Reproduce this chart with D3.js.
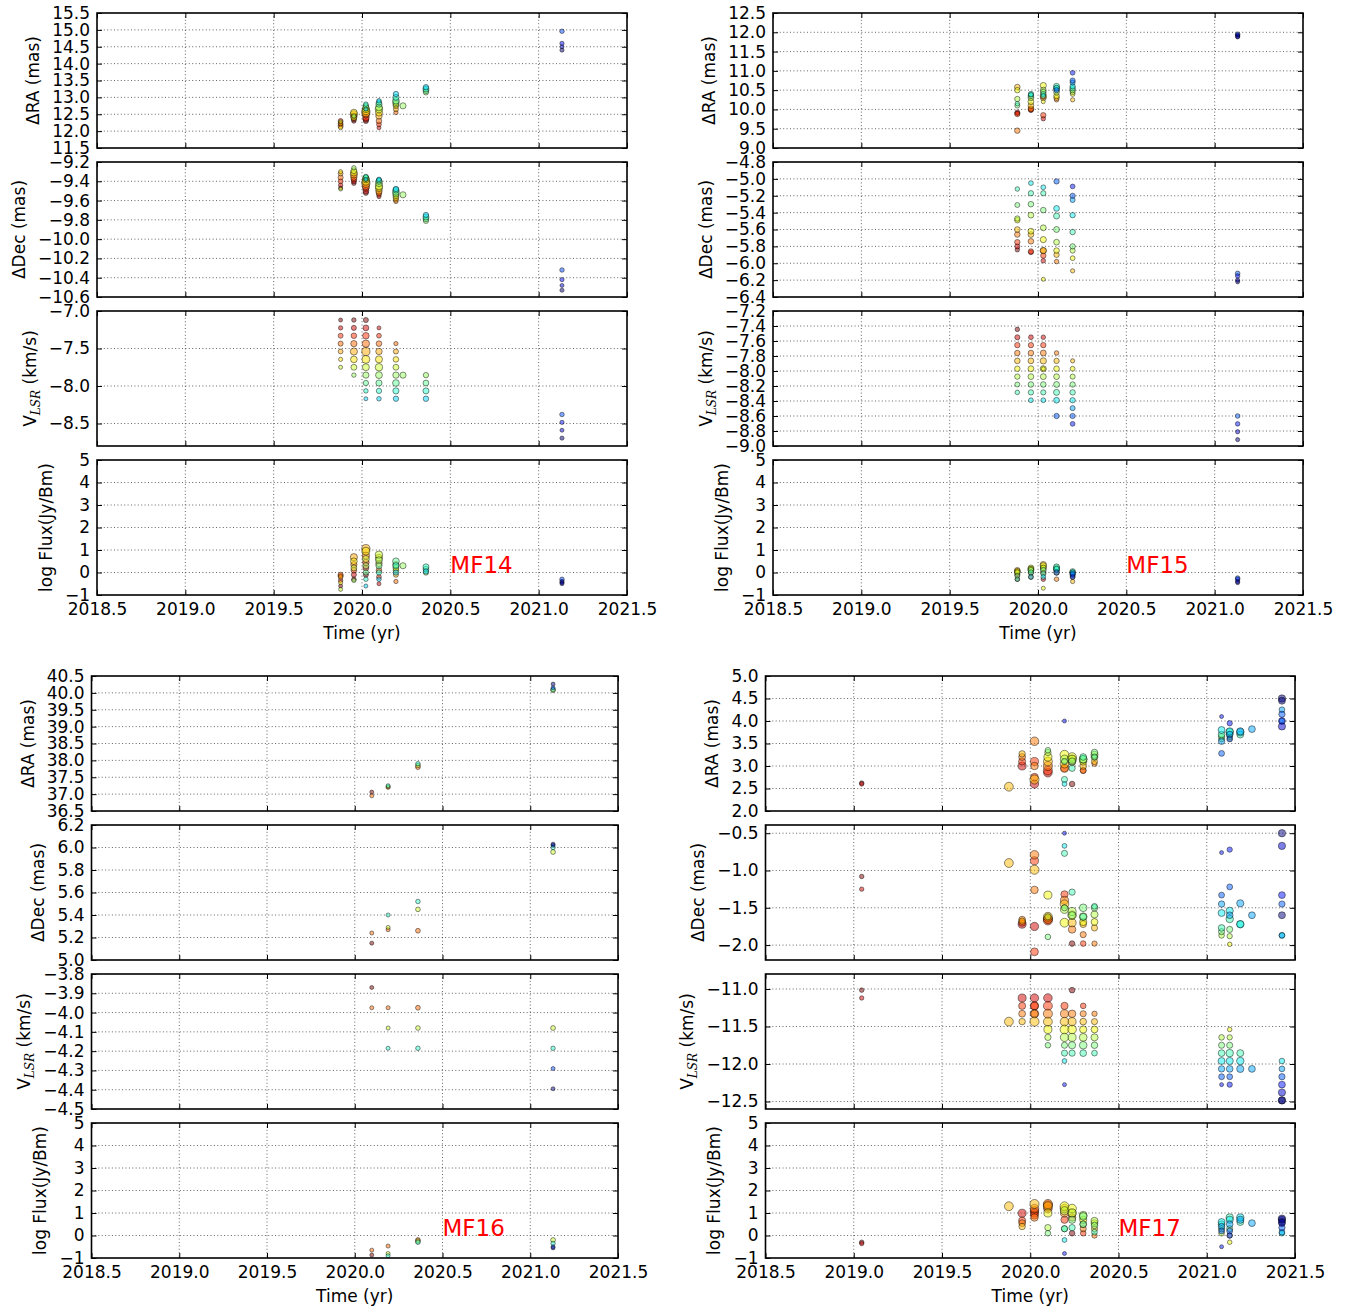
<!DOCTYPE html>
<html>
<head>
<meta charset="utf-8">
<script src="https://cdn.jsdelivr.net/npm/d3@7"></script>
<style>
  body { margin: 0; background: #fff; }
  text { font-family: "DejaVu Sans", sans-serif; }
</style>
</head>
<body>
<svg id="fig" width="1359" height="1312"></svg>
<script>
// ---------------------------------------------------------------
// Maser spot data, grouped by observing epoch (one inner list per epoch)
// ---------------------------------------------------------------

// MF14
const mf14Epochs = [2019.879, 2019.954, 2020.022, 2020.096, 2020.192, 2020.232, 2020.362, 2021.132];
const mf14Vlsr = [
  [-7.12, -7.225, -7.33, -7.435, -7.54, -7.645, -7.75],
  [-7.12, -7.225, -7.33, -7.435, -7.54, -7.645, -7.75, -7.855],
  [-7.12, -7.225, -7.33, -7.435, -7.54, -7.645, -7.75, -7.855, -7.96, -8.065, -8.17],
  [-7.225, -7.33, -7.435, -7.54, -7.645, -7.75, -7.855, -7.96, -8.065, -8.17],
  [-7.435, -7.54, -7.645, -7.75, -7.855, -7.96, -8.065, -8.17],
  [-7.855],
  [-7.855, -7.96, -8.065, -8.17],
  [-8.38, -8.485, -8.59, -8.695]
];
const mf14RA = [
  [12.25, 12.2, 12.3, 12.15, 12.22, 12.1, 12.28],
  [12.3, 12.35, 12.4, 12.45, 12.5, 12.55, 12.4, 12.45],
  [12.3, 12.35, 12.4, 12.5, 12.55, 12.6, 12.65, 12.7, 12.75, 12.8, 12.65],
  [12.1, 12.2, 12.3, 12.45, 12.55, 12.65, 12.7, 12.8, 12.85, 12.9],
  [12.55, 12.65, 12.75, 12.8, 12.85, 12.9, 13.0, 13.1],
  [12.75],
  [13.15, 13.2, 13.25, 13.3],
  [14.96, 14.6, 14.5, 14.4]
];
const mf14Dec = [
  [-9.47, -9.44, -9.40, -9.36, -9.32, -9.30, -9.48],
  [-9.42, -9.40, -9.38, -9.36, -9.33, -9.31, -9.29, -9.26],
  [-9.52, -9.50, -9.47, -9.45, -9.42, -9.40, -9.38, -9.37, -9.36, -9.35, -9.38],
  [-9.56, -9.54, -9.52, -9.50, -9.47, -9.45, -9.42, -9.40, -9.39, -9.38],
  [-9.61, -9.59, -9.57, -9.55, -9.53, -9.51, -9.49, -9.48],
  [-9.54],
  [-9.81, -9.79, -9.77, -9.75],
  [-10.32, -10.42, -10.48, -10.53]
];
const mf14Flux = [
  [-0.6, -0.35, -0.15, -0.1, -0.2, -0.45, -0.75],
  [-0.3, -0.1, 0.1, 0.35, 0.68, 0.5, 0.2, -0.35],
  [-0.1, 0.2, 0.45, 0.75, 1.06, 0.95, 0.6, 0.3, 0.0, -0.3, -0.6],
  [-0.5, -0.2, 0.1, 0.4, 0.65, 0.79, 0.55, 0.3, 0.0, -0.3],
  [-0.4, -0.1, 0.1, 0.2, 0.35, 0.5, 0.3, 0.0],
  [0.3],
  [0.0, 0.15, 0.25, 0.05],
  [-0.3, -0.4, -0.5, -0.45]
];

// MF15
const mf15Epochs = [2019.883, 2019.960, 2020.030, 2020.105, 2020.196, 2021.130];
const mf15Vlsr = [
  [-7.445, -7.55, -7.655, -7.76, -7.865, -7.97, -8.075, -8.18, -8.285],
  [-7.55, -7.655, -7.76, -7.865, -7.97, -8.075, -8.18, -8.285, -8.39],
  [-7.55, -7.655, -7.76, -7.865, -7.97, -8.075, -8.18, -8.285, -8.39, -7.97],
  [-7.76, -7.865, -7.97, -8.075, -8.18, -8.285, -8.39, -8.6],
  [-7.865, -7.97, -8.075, -8.18, -8.285, -8.39, -8.495, -8.6, -8.705],
  [-8.6, -8.705, -8.81, -8.915]
];
const mf15RA = [
  [9.9, 9.92, 9.88, 9.45, 10.58, 10.5, 10.27, 10.1, 10.15],
  [9.98, 10.0, 10.02, 10.1, 10.2, 10.3, 10.35, 10.4, 10.38],
  [9.76, 9.85, 10.3, 10.35, 10.62, 10.5, 10.45, 10.4, 10.35, 10.2],
  [10.25, 10.3, 10.35, 10.45, 10.55, 10.6, 10.55, 10.5],
  [10.25, 10.4, 10.45, 10.5, 10.55, 10.6, 10.7, 10.75, 10.95],
  [11.95, 11.9, 11.93, 11.88]
];
const mf15Dec = [
  [-5.84, -5.80, -5.75, -5.66, -5.60, -5.49, -5.47, -5.31, -5.12],
  [-5.87, -5.86, -5.74, -5.66, -5.62, -5.43, -5.30, -5.17, -5.05],
  [-5.97, -5.91, -5.85, -5.85, -5.72, -5.58, -5.37, -5.17, -5.10, -6.19],
  [-5.98, -5.90, -5.85, -5.75, -5.60, -5.44, -5.35, -5.03],
  [-6.09, -5.94, -5.85, -5.80, -5.63, -5.43, -5.25, -5.20, -5.09],
  [-6.12, -6.15, -6.20, -6.22]
];
const mf15Flux = [
  [-0.3, -0.1, 0.0, 0.05, 0.1, 0.05, 0.0, -0.15, -0.3],
  [-0.2, 0.0, 0.1, 0.15, 0.2, 0.15, 0.1, 0.0, -0.2],
  [-0.3, 0.0, 0.2, 0.35, 0.3, 0.2, 0.1, -0.05, -0.2, -0.7],
  [-0.3, 0.0, 0.1, 0.15, 0.2, 0.25, 0.15, 0.0],
  [-0.4, -0.2, -0.1, 0.0, 0.05, 0.0, -0.1, -0.05, -0.2],
  [-0.25, -0.3, -0.4, -0.45]
];

// MF16
const mf16Epochs = [2020.097, 2020.190, 2020.360, 2021.130];
const mf16Vlsr = [
  [-3.87, -3.975],
  [-3.975, -4.08, -4.185],
  [-3.975, -4.08, -4.185],
  [-4.08, -4.185, -4.29, -4.395]
];
const mf16RA = [
  [37.06, 36.95],
  [37.2, 37.22, 37.25],
  [37.8, 37.85, 37.9],
  [40.08, 40.1, 40.15, 40.26]
];
const mf16Dec = [
  [5.15, 5.24],
  [5.27, 5.29, 5.40],
  [5.26, 5.45, 5.52],
  [5.96, 6.00, 6.02, 6.03]
];
const mf16Flux = [
  [-0.87, -0.65],
  [-0.47, -0.8, -0.9],
  [-0.2, -0.25, -0.3],
  [-0.2, -0.35, -0.5, -0.55]
];

// MF17
const mf17Epochs = [2019.045, 2019.879, 2019.954, 2020.024, 2020.100, 2020.194, 2020.237,
                    2020.300, 2020.364, 2021.084, 2021.130, 2021.190, 2021.256, 2021.426];
const mf17Vlsr = [
  [-11.015, -11.12],
  [-11.435],
  [-11.12, -11.225, -11.33, -11.435],
  [-11.12, -11.225, -11.225, -11.33, -11.33, -11.435],
  [-11.12, -11.225, -11.33, -11.435, -11.54, -11.645, -11.75],
  [-11.225, -11.33, -11.435, -11.54, -11.645, -11.75, -11.855, -11.96, -12.275],
  [-11.015, -11.33, -11.435, -11.54, -11.645, -11.75, -11.855],
  [-11.225, -11.33, -11.435, -11.54, -11.645, -11.75, -11.855],
  [-11.33, -11.435, -11.54, -11.645, -11.75, -11.855],
  [-11.645, -11.75, -11.855, -11.96, -12.065, -12.17, -12.275],
  [-11.54, -11.645, -11.75, -11.855, -11.96, -12.065, -12.17, -12.275],
  [-11.855, -11.96, -12.065],
  [-12.065],
  [-11.96, -12.065, -12.17, -12.275, -12.38, -12.485, -12.485]
];
const mf17RA = [
  [2.62, 2.6],
  [2.54],
  [3.0, 3.1, 3.2, 3.27],
  [2.6, 3.1, 2.75, 3.55, 3.0, 2.7],
  [2.85, 2.9, 3.0, 3.1, 3.2, 3.3, 3.35],
  [2.95, 2.95, 3.05, 3.25, 3.15, 3.1, 2.7, 2.6, 4.0],
  [2.6, 3.1, 3.15, 3.2, 3.15, 3.1, 2.95],
  [2.9, 2.9, 3.0, 3.1, 3.15, 3.15, 3.2],
  [3.05, 3.1, 3.2, 3.25, 3.3, 3.2],
  [3.6, 3.65, 3.7, 3.8, 3.55, 3.28, 4.1],
  [3.6, 3.65, 3.7, 3.75, 3.77, 3.7, 3.6, 3.95],
  [3.7, 3.75, 3.77],
  [3.82],
  [4.0, 4.25, 4.15, 4.0, 3.88, 4.5, 4.45]
];
const mf17Dec = [
  [-1.08, -1.25],
  [-0.9],
  [-1.72, -1.70, -1.66, -1.68],
  [-1.75, -0.87, -2.09, -0.79, -1.26, -0.99],
  [-1.65, -1.67, -1.65, -1.62, -1.33, -1.62, -1.89],
  [-1.32, -1.40, -1.45, -1.70, -1.52, -1.50, -0.77, -0.67, -0.50],
  [-1.98, -1.79, -1.70, -1.60, -1.55, -1.60, -1.29],
  [-1.98, -1.86, -1.72, -1.69, -1.62, -1.50, -1.62],
  [-1.98, -1.77, -1.69, -1.59, -1.50, -1.48],
  [-1.87, -1.82, -1.77, -1.57, -1.45, -1.33, -0.76],
  [-1.99, -1.88, -1.79, -1.65, -1.54, -1.60, -1.22, -0.72],
  [-1.72, -1.72, -1.44],
  [-1.60],
  [-1.87, -1.87, -1.45, -1.33, -0.67, -0.50, -1.60]
];
const mf17Flux = [
  [-0.3, -0.36],
  [1.3],
  [0.99, 0.66, 0.55, 0.4],
  [1.1, 1.0, 0.9, 1.2, 0.8, 1.4],
  [1.2, 1.35, 1.4, 1.3, 1.0, 0.35, 0.1],
  [0.7, 1.0, 1.2, 1.3, 1.1, 0.3, 0.3, -0.2, -0.8],
  [0.1, 0.8, 1.0, 1.2, 1.0, 0.7, 0.35],
  [0.1, 0.3, 0.5, 0.7, 0.9, 0.85, 0.5],
  [0.0, 0.3, 0.55, 0.65, 0.45, 0.15],
  [0.1, 0.3, 0.5, 0.6, 0.4, 0.2, -0.5],
  [-0.3, 0.0, 0.3, 0.8, 0.7, 0.5, 0.2, 0.0],
  [0.6, 0.8, 0.7],
  [0.55],
  [0.1, 0.15, 0.35, 0.55, 0.7, 0.75, 0.6]
];

// ---------------------------------------------------------------
// Axis limits and tick labels
// ---------------------------------------------------------------
const timeTicks = [2018.5, 2019.0, 2019.5, 2020.0, 2020.5, 2021.0, 2021.5];
const fluxTicks = [-1, 0, 1, 2, 3, 4, 5];

const mf14RATicks  = [11.5, 12.0, 12.5, 13.0, 13.5, 14.0, 14.5, 15.0, 15.5];
const mf14DecTicks = [-10.6, -10.4, -10.2, -10.0, -9.8, -9.6, -9.4, -9.2];
const mf14VTicks   = [-8.5, -8.0, -7.5, -7.0];
const mf14VLimits  = [-8.8, -7.0];

const mf15RATicks  = [9.0, 9.5, 10.0, 10.5, 11.0, 11.5, 12.0, 12.5];
const mf15DecTicks = [-6.4, -6.2, -6.0, -5.8, -5.6, -5.4, -5.2, -5.0, -4.8];
const mf15VTicks   = [-9.0, -8.8, -8.6, -8.4, -8.2, -8.0, -7.8, -7.6, -7.4, -7.2];

const mf16RATicks  = [36.5, 37.0, 37.5, 38.0, 38.5, 39.0, 39.5, 40.0, 40.5];
const mf16DecTicks = [5.0, 5.2, 5.4, 5.6, 5.8, 6.0, 6.2];
const mf16VTicks   = [-4.5, -4.4, -4.3, -4.2, -4.1, -4.0, -3.9, -3.8];

const mf17RATicks  = [2.0, 2.5, 3.0, 3.5, 4.0, 4.5, 5.0];
const mf17DecTicks = [-2.0, -1.5, -1.0, -0.5];
const mf17DecLimits = [-2.2, -0.39];
const mf17VTicks   = [-12.5, -12.0, -11.5, -11.0];
const mf17VLimits  = [-12.6, -10.8];

// ---------------------------------------------------------------
// Figure layout
// ---------------------------------------------------------------
const sources = [
  { name: "MF14", epochs: mf14Epochs, v: mf14Vlsr, ra: mf14RA, dec: mf14Dec, flux: mf14Flux,
    raTicks: mf14RATicks, decTicks: mf14DecTicks, vTicks: mf14VTicks,
    raLim: d3.extent(mf14RATicks), decLim: d3.extent(mf14DecTicks), vLim: mf14VLimits,
    left: 97, right: 627, tops: [13, 162, 311, 460] },
  { name: "MF15", epochs: mf15Epochs, v: mf15Vlsr, ra: mf15RA, dec: mf15Dec, flux: mf15Flux,
    raTicks: mf15RATicks, decTicks: mf15DecTicks, vTicks: mf15VTicks,
    raLim: d3.extent(mf15RATicks), decLim: d3.extent(mf15DecTicks), vLim: d3.extent(mf15VTicks),
    left: 773, right: 1303, tops: [13, 162, 311, 460] },
  { name: "MF16", epochs: mf16Epochs, v: mf16Vlsr, ra: mf16RA, dec: mf16Dec, flux: mf16Flux,
    raTicks: mf16RATicks, decTicks: mf16DecTicks, vTicks: mf16VTicks,
    raLim: d3.extent(mf16RATicks), decLim: d3.extent(mf16DecTicks), vLim: d3.extent(mf16VTicks),
    left: 91.5, right: 618, tops: [676, 825, 974, 1123] },
  { name: "MF17", epochs: mf17Epochs, v: mf17Vlsr, ra: mf17RA, dec: mf17Dec, flux: mf17Flux,
    raTicks: mf17RATicks, decTicks: mf17DecTicks, vTicks: mf17VTicks,
    raLim: d3.extent(mf17RATicks), decLim: mf17DecLimits, vLim: mf17VLimits,
    left: 765.5, right: 1295, tops: [676, 825, 974, 1123] }
];
const subH = 135;
const tickFont = 17;
const tickLen = 5;

// matplotlib "jet" colormap, one linear scale per channel
const jetR = d3.scaleLinear().domain([0, 0.35, 0.66, 0.89, 1]).range([0, 0, 1, 1, 0.5]).clamp(true);
const jetG = d3.scaleLinear().domain([0, 0.125, 0.375, 0.64, 0.91, 1]).range([0, 0, 1, 1, 0, 0]).clamp(true);
const jetB = d3.scaleLinear().domain([0, 0.11, 0.34, 0.65, 1]).range([0.5, 1, 1, 0, 0]).clamp(true);
const jet = t => d3.rgb(255 * jetR(t), 255 * jetG(t), 255 * jetB(t)).toString();

// marker radius from log flux
const radius = d3.scaleLinear().domain([-0.5, 1.5]).range([2.0, 4.7]).clamp(true);

const svg = d3.select("#fig");
svg.append("rect").attr("width", 1359).attr("height", 1312).attr("fill", "#fff");
const defs = svg.append("defs");

const fmt1 = d3.format(".1f");
const fmt0 = d3.format("d");

sources.forEach((src, si) => {
  // flatten spots
  const spots = [];
  src.epochs.forEach((t, i) => {
    src.v[i].forEach((v, j) => {
      spots.push({ t, v, ra: src.ra[i][j], dec: src.dec[i][j], flux: src.flux[i][j] });
    });
  });
  const cnorm = d3.scaleLinear().domain(d3.extent(spots, d => d.v)).range([0, 1]);
  const x = d3.scaleLinear().domain([2018.5, 2021.5]).range([src.left, src.right]);
  const width = src.right - src.left;

  const rows = [
    { key: "ra", ticks: src.raTicks, lim: src.raLim, fmt: fmt1, label: "ra" },
    { key: "dec", ticks: src.decTicks, lim: src.decLim, fmt: fmt1, label: "dec" },
    { key: "v", ticks: src.vTicks, lim: src.vLim, fmt: fmt1, label: "v" },
    { key: "flux", ticks: fluxTicks, lim: [-1, 5], fmt: fmt0, label: "flux" }
  ];

  rows.forEach((row, ri) => {
    const top = src.tops[ri];
    const y = d3.scaleLinear().domain(row.lim).range([top + subH, top]);
    const g = svg.append("g");
    const clipId = `clip-${si}-${ri}`;
    defs.append("clipPath").attr("id", clipId)
      .append("rect").attr("x", src.left).attr("y", top).attr("width", width).attr("height", subH);

    // dotted grid
    const grid = g.append("g").attr("stroke", "#222").attr("stroke-width", 0.7)
      .attr("stroke-dasharray", "1,2.4");
    grid.selectAll("line.gx").data(timeTicks.slice(1, -1)).join("line")
      .attr("x1", d => x(d)).attr("x2", d => x(d)).attr("y1", top).attr("y2", top + subH);
    grid.selectAll("line.gy").data(row.ticks.filter(d => y(d) > top + 0.5 && y(d) < top + subH - 0.5)).join("line")
      .attr("x1", src.left).attr("x2", src.right).attr("y1", d => y(d)).attr("y2", d => y(d));

    // maser spots
    g.append("g").attr("clip-path", `url(#${clipId})`)
      .selectAll("circle").data(spots).join("circle")
      .attr("cx", d => x(d.t))
      .attr("cy", d => y(d[row.key]))
      .attr("r", d => radius(d.flux))
      .attr("fill", d => jet(cnorm(d.v)))
      .attr("fill-opacity", 0.5)
      .attr("stroke", "#000")
      .attr("stroke-opacity", 0.45)
      .attr("stroke-width", 1);

    // frame
    g.append("rect").attr("x", src.left).attr("y", top).attr("width", width).attr("height", subH)
      .attr("fill", "none").attr("stroke", "#000").attr("stroke-width", 1.6);

    // y axis: inward ticks left and right, labels on the left
    const axL = g.append("g").attr("transform", `translate(${src.left},0)`)
      .call(d3.axisLeft(y).tickValues(row.ticks).tickFormat(row.fmt).tickSize(-tickLen).tickPadding(7));
    const axR = g.append("g").attr("transform", `translate(${src.right},0)`)
      .call(d3.axisRight(y).tickValues(row.ticks).tickFormat("").tickSize(-tickLen));
    // x axis: inward ticks top and bottom, labels only under the flux panel
    const axB = g.append("g").attr("transform", `translate(0,${top + subH})`)
      .call(d3.axisBottom(x).tickValues(timeTicks).tickFormat(ri === 3 ? fmt1 : "").tickSize(-tickLen).tickPadding(6));
    const axT = g.append("g").attr("transform", `translate(0,${top})`)
      .call(d3.axisTop(x).tickValues(timeTicks).tickFormat("").tickSize(-tickLen));
    [axL, axR, axB, axT].forEach(ax => {
      ax.select(".domain").remove();
      ax.attr("font-size", tickFont).attr("font-family", "DejaVu Sans");
      ax.selectAll("line").attr("stroke", "#000").attr("stroke-width", 1);
      ax.selectAll("text").attr("fill", "#000");
    });
    axB.selectAll("text").attr("dy", "0.71em").attr("y", 8);

    // y label placed left of the widest tick label
    let maxW = 0;
    axL.selectAll("text").each(function () {
      maxW = Math.max(maxW, this.getComputedTextLength());
    });
    const lx = src.left - 7 - maxW - 13;
    const cy = top + subH / 2;
    const lab = svg.append("text")
      .attr("transform", `translate(${lx},${cy}) rotate(-90)`)
      .attr("text-anchor", "middle")
      .attr("font-size", tickFont)
      .attr("fill", "#000");
    if (row.label === "ra") lab.text("\u0394RA (mas)");
    else if (row.label === "dec") lab.text("\u0394Dec (mas)");
    else if (row.label === "flux") lab.text("log Flux(Jy/Bm)");
    else {
      lab.append("tspan").text("V");
      lab.append("tspan").attr("font-family", "DejaVu Serif").attr("font-style", "italic")
        .attr("font-size", 12).attr("dy", 4).text("LSR");
      lab.append("tspan").attr("dy", -4).text(" (km/s)");
    }

    if (ri === 3) {
      // source name inside the flux panel
      svg.append("text").attr("x", x(2020.5)).attr("y", y(0))
        .attr("font-size", 23).attr("fill", "#ff0000").text(src.name);
      // time axis label
      svg.append("text").attr("x", (src.left + src.right) / 2).attr("y", top + subH + 44)
        .attr("text-anchor", "middle").attr("font-size", tickFont).attr("fill", "#000")
        .text("Time (yr)");
    }
  });
});
</script>
</body>
</html>
